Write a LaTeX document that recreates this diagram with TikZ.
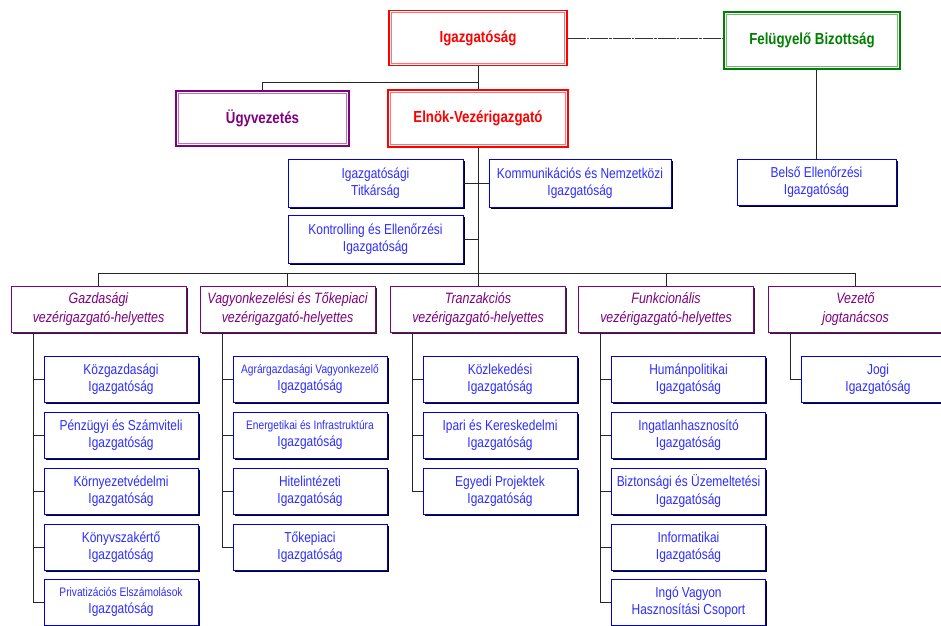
\documentclass[tikz,border=0pt]{standalone}
\usepackage{fontspec}
\setmainfont{Liberation Sans}[FakeStretch=0.83]
\usetikzlibrary{shadows}
\definecolor{cred}{RGB}{255,0,0}
\definecolor{cgreen}{RGB}{0,128,0}
\definecolor{cpurple}{RGB}{128,0,128}
\definecolor{ctext}{RGB}{45,45,255}
\definecolor{cborder}{RGB}{0,0,215}
\newcommand{\smallline}[1]{{\fontsize{12.3}{15}\selectfont #1}}
\begin{document}
\begin{tikzpicture}[x=1pt,y=-1pt,
  topbox/.style={draw=#1, text=#1, line width=1.7pt,
    minimum width=178pt, minimum height=55pt, inner sep=0pt, fill=white,
    font=\fontsize{16}{19}\selectfont\bfseries},
  innerline/.style={draw=#1!55, line width=1pt},
  hbox/.style={draw=cpurple, line width=0.8pt, fill=white, text=cpurple,
    minimum width=175pt, minimum height=46pt, inner sep=0pt, align=center,
    font=\fontsize{15}{18.3}\selectfont\itshape,
    drop shadow={shadow xshift=1.8pt, shadow yshift=-1.8pt, fill=black!85, opacity=1}},
  ubox/.style={draw=cborder, line width=0.9pt, fill=white, text=ctext,
    minimum width=154pt, minimum height=46pt, inner sep=0pt, align=center,
    font=\fontsize{14.4}{17.3}\selectfont,
    drop shadow={shadow xshift=1.8pt, shadow yshift=-1.8pt, fill=black, opacity=1}},
  conn/.style={draw=black!85, line width=0.9pt},
  dashdotline/.style={draw=black!80, line width=0.9pt, dash pattern=on 18pt off 1pt on 2.5pt off 1pt}
]
\useasboundingbox (0,0) rectangle (941,625);

% top level
\node[topbox=cred] (igz) at (478,38) {Igazgatóság};
\node[topbox=cgreen, minimum width=176pt, minimum height=57pt] (fel) at (812,40.5) {Felügyelő Bizottság};
\node[topbox=cpurple, minimum width=173pt] (ugy) at (262.5,118.5) {Ügyvezetés};
\node[topbox=cred, minimum width=180pt, minimum height=57pt] (eln) at (478,118.5) {Elnök-Vezérigazgató};
\foreach \n/\c in {igz/cred, fel/cgreen, ugy/cpurple, eln/cred}
  \draw[innerline=\c] ([shift={(3.2pt,3.2pt)}]\n.south west) rectangle ([shift={(-3.2pt,-3.2pt)}]\n.north east);

\node[ubox, minimum width=175pt, minimum height=48pt] (titk) at (375.5,183) {Igazgatósági\\Titkárság};
\node[ubox, minimum width=182pt, minimum height=48pt] (komm) at (580,183) {Kommunikációs és Nemzetközi\\Igazgatóság};
\node[ubox, minimum width=175pt, minimum height=48pt] (kont) at (375.5,239) {Kontrolling és Ellenőrzési\\Igazgatóság};
\node[ubox, minimum width=159pt, minimum height=46pt] (bels) at (816.5,182) {Belső Ellenőrzési\\Igazgatóság};

% headers
\node[hbox] (h1) at (98.5,309) {Gazdasági\\vezérigazgató-helyettes};
\node[hbox] (h2) at (287.5,309) {Vagyonkezelési és Tőkepiaci\\vezérigazgató-helyettes};
\node[hbox] (h3) at (478,309) {Tranzakciós\\vezérigazgató-helyettes};
\node[hbox] (h4) at (666,309) {Funkcionális\\vezérigazgató-helyettes};
\node[hbox] (h5) at (855.5,309) {Vezető\\jogtanácsos};

% column verticals
\coordinate (v1) at (33,0);
\coordinate (v2) at (222,0);
\coordinate (v3) at (412,0);
\coordinate (v4) at (600.5,0);
\coordinate (v5) at (790,0);

% column 1
\node[ubox] (a1) at (121,379) {Közgazdasági\\Igazgatóság};
\node[ubox] (a2) at (121,435) {Pénzügyi és Számviteli\\Igazgatóság};
\node[ubox] (a3) at (121,491) {Környezetvédelmi\\Igazgatóság};
\node[ubox] (a4) at (121,547) {Könyvszakértő\\Igazgatóság};
\node[ubox] (a5) at (121,602) {\smallline{Privatizációs Elszámolások}\\Igazgatóság};
% column 2
\node[ubox] (b1) at (310,379) {\smallline{Agrárgazdasági Vagyonkezelő}\\Igazgatóság};
\node[ubox] (b2) at (310,435) {\smallline{Energetikai és Infrastruktúra}\\Igazgatóság};
\node[ubox] (b3) at (310,491) {Hitelintézeti\\Igazgatóság};
\node[ubox] (b4) at (310,547) {Tőkepiaci\\Igazgatóság};
% column 3
\node[ubox] (c1) at (500,379) {Közlekedési\\Igazgatóság};
\node[ubox] (c2) at (500,435) {Ipari és Kereskedelmi\\Igazgatóság};
\node[ubox] (c3) at (500,491) {Egyedi Projektek\\Igazgatóság};
% column 4
\node[ubox] (d1) at (688.5,379) {Humánpolitikai\\Igazgatóság};
\node[ubox] (d2) at (688.5,435) {Ingatlanhasznosító\\Igazgatóság};
\node[ubox] (d3) at (688.5,491) {Biztonsági és Üzemeltetési\\Igazgatóság};
\node[ubox] (d4) at (688.5,547) {Informatikai\\Igazgatóság};
\node[ubox] (d5) at (688.5,602) {Ingó Vagyon\\Hasznosítási Csoport};
% column 5
\node[ubox] (e1) at (878,379) {Jogi\\Igazgatóság};

% connectors
\draw[dashdotline] (igz.east) -- (igz.east -| fel.west);
\draw[conn] (igz.south) -- (eln.north);
\coordinate (j1) at (478,82);
\draw[conn] (j1) -| (ugy.north);
\draw[conn] (fel.south -| bels.north) -- (bels.north);
\draw[conn] (eln.south) -- (h3.north);
\draw[conn] (titk.east) -- (komm.west);
\draw[conn] (kont.east) -- (kont.east -| eln.south);
\draw[conn] (h1.north) -- ++(0,-12) -| (h5.north);
\draw[conn] (h2.north) -- ++(0,-12);
\draw[conn] (h4.north) -- ++(0,-12);

\draw[conn] (h1.south -| v1) |- (a5.west);
\foreach \i in {1,...,4} \draw[conn] (a\i.west) -- (a\i.west -| v1);
\draw[conn] (h2.south -| v2) |- (b4.west);
\foreach \i in {1,...,3} \draw[conn] (b\i.west) -- (b\i.west -| v2);
\draw[conn] (h3.south -| v3) |- (c3.west);
\foreach \i in {1,2} \draw[conn] (c\i.west) -- (c\i.west -| v3);
\draw[conn] (h4.south -| v4) |- (d5.west);
\foreach \i in {1,...,4} \draw[conn] (d\i.west) -- (d\i.west -| v4);
\draw[conn] (h5.south -| v5) |- (e1.west);
\end{tikzpicture}
\end{document}
